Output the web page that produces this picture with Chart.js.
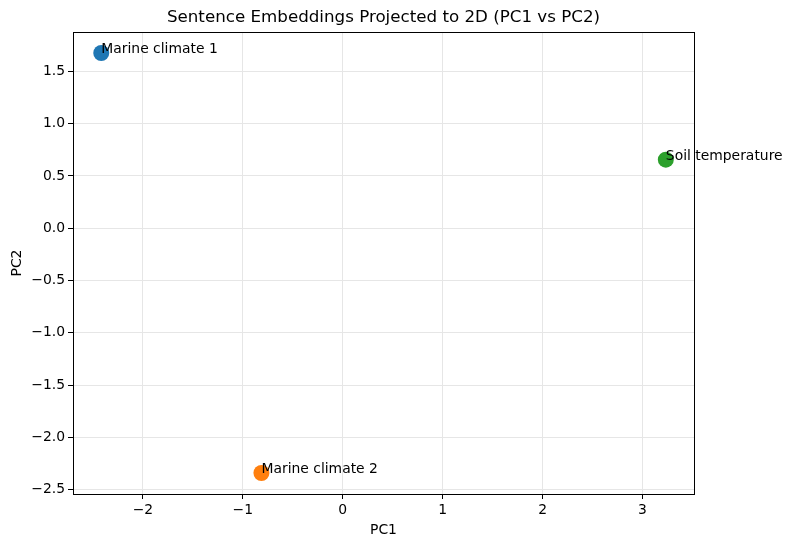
<!DOCTYPE html>
<html lang="en">
<head>
    <meta charset="UTF-8">
    <title>Sentence Embeddings Projected to 2D</title>
    <script src="https://cdn.jsdelivr.net/npm/chart.js"></script>
    <style>
        html, body { margin: 0; padding: 0; background: #fff; }
        #wrap { width: 792px; height: 547px; }
    </style>
</head>
<body>
    <div id="wrap"><canvas id="chart" width="792" height="547"></canvas></div>
    <script>
        // data
        const sentences = ['Marine climate 1', 'Marine climate 2', 'Soil temperature'];
        const pc1 = [-2.417, -0.814, 3.234];
        const pc2 = [1.676, -2.340, 0.656];
        const xTicks = [-2, -1, 0, 1, 2, 3];
        const yTicks = [-2.5, -2.0, -1.5, -1.0, -0.5, 0.0, 0.5, 1.0, 1.5];

        const palette = ['#1f77b4', '#ff7f0e', '#2ca02c'];
        const FONT = '"DejaVu Sans", sans-serif';

        // matplotlib style minus sign
        const fmt = (v, digits) => {
            const s = Math.abs(v).toFixed(digits);
            return v < 0 ? '\u2212' + s : s;
        };

        const extras = {
            id: 'extras',
            afterDatasetsDraw(chart) {
                const ctx = chart.ctx;
                const xs = chart.scales.x, ys = chart.scales.y;
                ctx.save();
                ctx.fillStyle = '#000';
                ctx.font = '13.9px ' + FONT;
                ctx.textAlign = 'left';
                ctx.textBaseline = 'alphabetic';
                sentences.forEach((s, i) => {
                    ctx.fillText(s, xs.getPixelForValue(pc1[i]), ys.getPixelForValue(pc2[i]));
                });
                ctx.restore();
            },
            afterDraw(chart) {
                const ctx = chart.ctx;
                const a = chart.chartArea;
                ctx.save();
                // frame
                ctx.strokeStyle = '#000';
                ctx.lineWidth = 1;
                ctx.strokeRect(Math.round(a.left) + 0.5, Math.round(a.top) + 0.5,
                    Math.round(a.right - a.left), Math.round(a.bottom - a.top));
                // title + axis labels
                ctx.fillStyle = '#000';
                ctx.textAlign = 'center';
                ctx.textBaseline = 'middle';
                ctx.font = '16.7px ' + FONT;
                ctx.fillText('Sentence Embeddings Projected to 2D (PC1 vs PC2)', (a.left + a.right) / 2, 18);
                ctx.font = '13.9px ' + FONT;
                ctx.fillText('PC1', (a.left + a.right) / 2, 530);
                ctx.translate(17, (a.top + a.bottom) / 2);
                ctx.rotate(-Math.PI / 2);
                ctx.fillText('PC2', 0, 0);
                ctx.restore();
            }
        };

        new Chart(document.getElementById('chart'), {
            type: 'scatter',
            data: {
                datasets: [{
                    data: pc1.map((x, i) => ({ x: x, y: pc2[i] })),
                    backgroundColor: palette,
                    borderWidth: 0,
                    pointRadius: 8,
                    pointHoverRadius: 8
                }]
            },
            options: {
                responsive: false,
                animation: false,
                layout: { padding: { top: 32, right: 98, left: 0, bottom: 0 } },
                plugins: {
                    legend: { display: false },
                    tooltip: { enabled: false },
                    title: { display: false }
                },
                scales: {
                    x: {
                        type: 'linear',
                        min: -2.70,
                        max: 3.516,
                        afterFit: s => { s.height = 53; },
                        afterBuildTicks: s => { s.ticks = xTicks.map(v => ({ value: v })); },
                        grid: { color: '#e6e6e6', tickColor: '#000', tickLength: 5, lineWidth: 1 },
                        border: { color: '#000' },
                        ticks: {
                            color: '#000',
                            padding: 3,
                            font: { family: FONT, size: 13.9 },
                            callback: v => fmt(v, 0)
                        }
                    },
                    y: {
                        type: 'linear',
                        min: -2.541,
                        max: 1.877,
                        afterFit: s => { s.width = 73; },
                        afterBuildTicks: s => { s.ticks = yTicks.map(v => ({ value: v })); },
                        grid: { color: '#e6e6e6', tickColor: '#000', tickLength: 5, lineWidth: 1 },
                        border: { color: '#000' },
                        ticks: {
                            color: '#000',
                            padding: 3,
                            font: { family: FONT, size: 13.9 },
                            callback: v => fmt(v, 1)
                        }
                    }
                }
            },
            plugins: [extras]
        });
    </script>
</body>
</html>
